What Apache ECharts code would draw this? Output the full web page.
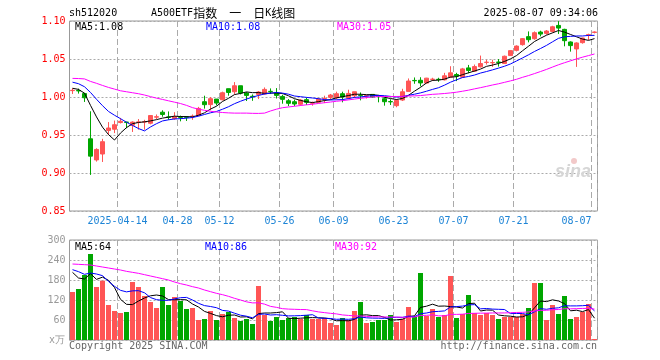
<!DOCTYPE html>
<html><head><meta charset="utf-8">
<script src="https://cdn.jsdelivr.net/npm/echarts@6/dist/echarts.min.js"></script>
<style>html,body{margin:0;padding:0;background:#fff}#c{width:660px;height:360px}</style>
</head><body><div id="c"></div>
<script>
const dates = ['2025-04-01','2025-04-02','2025-04-03','2025-04-07','2025-04-08','2025-04-09','2025-04-10','2025-04-11','2025-04-14','2025-04-15',
'2025-04-16','2025-04-17','2025-04-18','2025-04-21','2025-04-22','2025-04-23','2025-04-24','2025-04-25','2025-04-28','2025-04-29',
'2025-04-30','2025-05-06','2025-05-07','2025-05-08','2025-05-09','2025-05-12','2025-05-13','2025-05-14','2025-05-15','2025-05-16',
'2025-05-19','2025-05-20','2025-05-21','2025-05-22','2025-05-23','2025-05-26','2025-05-27','2025-05-28','2025-05-29','2025-05-30',
'2025-06-03','2025-06-04','2025-06-05','2025-06-06','2025-06-09','2025-06-10','2025-06-11','2025-06-12','2025-06-13','2025-06-16',
'2025-06-17','2025-06-18','2025-06-19','2025-06-20','2025-06-23','2025-06-24','2025-06-25','2025-06-26','2025-06-27','2025-06-30',
'2025-07-01','2025-07-02','2025-07-03','2025-07-04','2025-07-07','2025-07-08','2025-07-09','2025-07-10','2025-07-11','2025-07-14',
'2025-07-15','2025-07-16','2025-07-17','2025-07-18','2025-07-21','2025-07-22','2025-07-23','2025-07-24','2025-07-25','2025-07-28',
'2025-07-29','2025-07-30','2025-07-31','2025-08-01','2025-08-04','2025-08-05','2025-08-06','2025-08-07'];

const openP = [1.0084,1.0085,1.0045,0.9450,0.9172,0.9250,0.9560,0.9576,0.9664,0.9670,
0.9628,0.9668,0.9670,0.9655,0.9735,0.9800,0.9738,0.9716,0.9736,0.9737,
0.9745,0.9755,0.9938,0.9900,0.9973,0.9964,1.0109,1.0069,1.0148,1.0052,
1.0010,1.0034,1.0039,1.0075,1.0052,1.0008,0.9951,0.9938,0.9904,0.9965,
0.9918,0.9930,0.9975,0.9995,0.9990,1.0043,0.9986,1.0017,1.0022,1.0015,
1.0034,1.0009,0.9977,0.9940,0.9886,0.9960,1.0074,1.0218,1.0220,1.0183,
1.0231,1.0233,1.0226,1.0261,1.0296,1.0261,1.0383,1.0340,1.0397,1.0455,
1.0450,1.0460,1.0440,1.0545,1.0614,1.0689,1.0794,1.0767,1.0855,1.0837,
1.0863,1.0942,1.0890,1.0724,1.0632,1.0715,1.0815,1.0850];
const closeP = [1.0088,1.0080,0.9990,0.9222,0.9310,0.9412,0.9592,0.9635,0.9680,0.9666,
0.9670,0.9672,0.9675,0.9756,0.9740,0.9770,0.9733,0.9740,0.9732,0.9733,
0.9748,0.9850,0.9899,0.9978,0.9920,1.0056,1.0060,1.0148,1.0052,1.0021,
1.0003,1.0065,1.0100,1.0071,1.0021,0.9969,0.9917,0.9908,0.9960,0.9930,
0.9922,0.9973,0.9980,1.0026,1.0043,1.0000,1.0047,1.0069,1.0019,1.0019,
1.0000,1.0005,0.9938,0.9936,0.9956,1.0069,1.0210,1.0214,1.0185,1.0248,
1.0235,1.0230,1.0279,1.0318,1.0275,1.0370,1.0349,1.0400,1.0440,1.0458,
1.0453,1.0455,1.0536,1.0610,1.0670,1.0768,1.0754,1.0846,1.0828,1.0868,
1.0924,1.0907,1.0741,1.0676,1.0711,1.0776,1.0820,1.0855];
const lowP = [1.0040,1.0045,0.9935,0.8975,0.9150,0.9145,0.9500,0.9525,0.9652,0.9590,
0.9540,0.9570,0.9570,0.9640,0.9710,0.9740,0.9700,0.9700,0.9680,0.9685,
0.9700,0.9747,0.9847,0.9825,0.9890,0.9956,1.0017,1.0034,1.0034,0.9947,
0.9950,0.9973,1.0030,1.0039,0.9980,0.9912,0.9880,0.9880,0.9886,0.9895,
0.9886,0.9918,0.9920,0.9970,0.9970,0.9930,0.9970,0.9986,0.9956,0.9980,
0.9990,0.9930,0.9886,0.9895,0.9865,0.9947,1.0074,1.0174,1.0140,1.0179,
1.0210,1.0200,1.0218,1.0253,1.0209,1.0253,1.0313,1.0331,1.0388,1.0427,
1.0396,1.0400,1.0436,1.0540,1.0600,1.0676,1.0719,1.0754,1.0798,1.0820,
1.0850,1.0829,1.0667,1.0597,1.0396,1.0702,1.0750,1.0837];
const highP = [1.0115,1.0110,1.0055,0.9812,0.9325,0.9450,0.9670,0.9690,0.9725,0.9672,
0.9680,0.9710,0.9700,0.9756,0.9770,0.9825,0.9810,0.9800,0.9755,0.9750,
0.9770,0.9870,1.0017,1.0000,0.9973,1.0070,1.0110,1.0196,1.0148,1.0065,
1.0034,1.0078,1.0126,1.0113,1.0117,1.0030,0.9973,0.9965,0.9973,0.9990,
0.9940,0.9982,1.0017,1.0040,1.0070,1.0070,1.0096,1.0069,1.0060,1.0030,
1.0034,1.0010,0.9995,0.9970,0.9973,1.0108,1.0244,1.0257,1.0260,1.0252,
1.0253,1.0253,1.0318,1.0405,1.0318,1.0383,1.0422,1.0427,1.0545,1.0490,
1.0490,1.0500,1.0545,1.0614,1.0680,1.0776,1.0863,1.0863,1.0872,1.0881,
1.0937,1.0998,1.0898,1.0732,1.0720,1.0780,1.0833,1.0863];

const ma5 = [1.0115,1.0100,1.0050,0.9890,0.9738,0.9603,0.9505,0.9434,0.9526,0.9597,
0.9649,0.9665,0.9673,0.9686,0.9702,0.9722,0.9735,0.9748,0.9743,0.9742,
0.9738,0.9760,0.9792,0.9841,0.9879,0.9941,0.9983,1.0032,1.0047,1.0067,
1.0057,1.0058,1.0048,1.0052,1.0052,1.0046,1.0016,0.9978,0.9955,0.9937,
0.9927,0.9939,0.9953,0.9966,0.9989,1.0004,1.0019,1.0037,1.0036,1.0031,
1.0031,1.0022,0.9996,0.9980,0.9967,0.9981,1.0022,1.0077,1.0127,1.0185,
1.0218,1.0222,1.0235,1.0262,1.0267,1.0294,1.0318,1.0342,1.0367,1.0403,
1.0420,1.0441,1.0468,1.0502,1.0545,1.0608,1.0668,1.0730,1.0773,1.0813,
1.0844,1.0875,1.0854,1.0823,1.0792,1.0762,1.0745,1.0768];
const ma10 = [1.0195,1.0175,1.0135,1.0060,0.9970,0.9886,0.9810,0.9760,0.9715,0.9668,
0.9626,0.9585,0.9554,0.9606,0.9649,0.9685,0.9700,0.9711,0.9715,0.9722,
0.9730,0.9748,0.9770,0.9792,0.9810,0.9839,0.9872,0.9912,0.9944,0.9973,
0.9999,1.0020,1.0040,1.0050,1.0060,1.0051,1.0037,1.0013,1.0004,0.9995,
0.9987,0.9978,0.9966,0.9961,0.9963,0.9966,0.9979,0.9995,1.0001,1.0010,
1.0018,1.0021,1.0017,1.0008,0.9999,1.0006,1.0022,1.0037,1.0054,1.0076,
1.0100,1.0122,1.0156,1.0195,1.0226,1.0256,1.0270,1.0289,1.0315,1.0335,
1.0357,1.0380,1.0405,1.0435,1.0474,1.0514,1.0555,1.0599,1.0638,1.0679,
1.0726,1.0772,1.0792,1.0798,1.0803,1.0803,1.0810,1.0811];
const ma30 = [1.0245,1.0243,1.0238,1.0205,1.0180,1.0152,1.0126,1.0104,1.0082,1.0069,
1.0056,1.0043,1.0026,1.0005,0.9985,0.9968,0.9950,0.9932,0.9914,0.9890,
0.9860,0.9840,0.9825,0.9812,0.9803,0.9796,0.9791,0.9788,0.9788,0.9788,
0.9785,0.9784,0.9788,0.9816,0.9840,0.9859,0.9869,0.9878,0.9888,0.9897,
0.9905,0.9915,0.9925,0.9934,0.9944,0.9952,0.9962,0.9973,0.9983,0.9992,
1.0001,1.0006,1.0007,1.0006,1.0007,1.0008,1.0013,1.0015,1.0019,1.0027,
1.0035,1.0040,1.0046,1.0054,1.0063,1.0076,1.0090,1.0107,1.0123,1.0140,
1.0158,1.0174,1.0193,1.0212,1.0233,1.0259,1.0282,1.0308,1.0335,1.0363,
1.0394,1.0424,1.0451,1.0476,1.0501,1.0524,1.0545,1.0566];

const volume = [144,153,195,258,159,178,105,87,81,84,
174,159,132,114,96,159,105,129,117,93,
96,60,63,87,60,78,84,66,57,63,
48,162,75,57,69,60,66,69,63,75,
63,63,66,51,45,66,60,87,114,51,
54,60,60,75,54,63,99,72,201,72,
93,69,75,192,66,78,135,81,75,81,
75,63,69,69,69,78,96,171,171,60,
105,78,132,63,69,84,108,3];
const volMa5 = [203,186,183,199,181.8,188.6,179,157.4,122,107,
106.2,117,126,132.6,135,132,121.2,120.6,121.2,120.6,
108,99,85.8,79.8,73.2,69.6,74.4,75,69,69.6,
63.6,79.2,81,81,82.2,84.6,65.4,64.2,65.4,66.6,
67.2,66.6,66,63.6,57.6,58.2,57.6,61.8,74.4,75.6,
73.2,73.2,67.8,60,60.6,62.4,70.2,72.6,97.8,101.4,
107.4,101.4,102,100.2,99,96,109.2,110.4,87,90,
89.4,75,72.6,71.4,69,69.6,76.2,96.6,117,115.2,
120.6,117,109.2,87.6,89.4,85.2,91.2,65.4];
const volMa10 = [211,205,197,201,198,193,176,161,149,144.4,
147.4,148,141.7,127.3,121,119.1,119.1,123.3,126.9,127.8,
120,110.1,103.2,100.5,96.9,88.8,86.7,80.4,74.4,71.4,
66.6,76.8,78,75,75.9,74.1,72.3,72.6,73.2,74.4,
75.9,66,65.1,64.5,62.1,62.7,62.1,63.9,69,66.6,
65.7,65.4,64.8,67.2,68.1,67.8,71.7,70.2,78.9,81,
84.9,85.8,87.3,99,100.2,101.7,105.3,106.2,93.6,94.5,
92.7,92.1,91.5,79.2,79.5,79.5,75.6,84.6,94.2,92.1,
95.1,96.6,102.9,102.3,102.3,102.9,104.1,87.3];
const volMa30 = [228,227,226,225,222,219,216,213,210,206,
203,200,196,192,188,184,180,174,169,165,
160,156,150,145,140,136,131,125,120,114.5,
111.3,111.6,107.6,100.9,97.9,94,92.7,92.1,91.5,91.2,
87.5,84.3,82.1,80,78.3,75.2,73.7,72.3,72.2,70.8,
69.4,69.4,69.3,68.9,68.7,68.2,68.7,68.9,73.7,74,
75.5,72.4,72.4,76.9,76.8,77.4,79.7,80.1,80.5,80.7,
81.1,81.1,81.2,81.8,82.6,83,84.2,87,88.9,89.2,
90.9,91.5,93.9,93.5,94,94.7,95,92.7];

const tickDates = ['2025-04-14','2025-04-28','2025-05-12','2025-05-26','2025-06-09','2025-06-23','2025-07-07','2025-07-21','2025-08-07'];
const tickLabels = ['2025-04-14','04-28','05-12','05-26','06-09','06-23','07-07','07-21','08-07'];

const UP = '#ff5555', DOWN = '#00a600';
const MONO = '"DejaVu Sans Mono", monospace';
const isTick = (i, v) => tickDates.indexOf(v) >= 0;

const chart = echarts.init(document.getElementById('c'), null, {renderer: 'canvas'});
const gridCommon = {show: true, borderColor: '#999', borderWidth: 1, backgroundColor: '#fff'};
const xCommon = {
  type: 'category', data: dates, boundaryGap: true,
  axisLine: {show: false}, axisTick: {show: false},
  splitLine: {show: true, interval: isTick, lineStyle: {color: '#aaa', type: [6, 3], width: 1}}
};
function lineSeries(name, data, color, xi, yi) {
  return {name, type: 'line', data, xAxisIndex: xi, yAxisIndex: yi, symbol: 'none', smooth: false,
    lineStyle: {color, width: 1}, itemStyle: {color}, z: 5, silent: true};
}
function txt(x, y, text, fill, align, extra) {
  return Object.assign({type: 'text', x, y, silent: true, z: 100,
    style: {text, fill, font: '10px ' + MONO, textAlign: align || 'left', textVerticalAlign: 'middle'}}, extra || {});
}

chart.setOption({
  animation: false,
  backgroundColor: '#fff',
  grid: [
    Object.assign({left: 69.5, width: 528, top: 21, height: 190}, gridCommon),
    Object.assign({left: 69.5, width: 528, top: 240, height: 100}, gridCommon)
  ],
  xAxis: [
    Object.assign({gridIndex: 0, axisLabel: {show: true, interval: isTick, color: '#1d84d6', fontFamily: MONO, fontSize: 10, margin: 5,
      formatter: v => {
        const k = tickDates.indexOf(v);
        return (k === tickDates.length - 1 ? '{e|' : '{n|') + tickLabels[k] + '}';
      },
      rich: {
        n: {color: '#1d84d6', fontFamily: MONO, fontSize: 10, padding: [0, 6, 0, 0]},
        e: {color: '#1d84d6', fontFamily: MONO, fontSize: 10, padding: [0, 36, 0, 0]}
      }}}, xCommon),
    Object.assign({gridIndex: 1, axisLabel: {show: false}}, xCommon)
  ],
  yAxis: [
    {gridIndex: 0, min: 0.85, max: 1.10, interval: 0.05, axisLine: {show: false}, axisTick: {show: false},
      axisLabel: {color: '#ff0000', fontFamily: MONO, fontSize: 10, margin: 4, formatter: v => v.toFixed(2)},
      splitLine: {show: true, lineStyle: {color: '#aaa', type: [2, 2]}}},
    {gridIndex: 1, min: 0, max: 300, interval: 60, axisLine: {show: false}, axisTick: {show: false},
      axisLabel: {color: '#999', fontFamily: MONO, fontSize: 10, margin: 4, formatter: v => v === 0 ? '' : String(v)},
      splitLine: {show: true, lineStyle: {color: '#aaa', type: [2, 2]}}}
  ],
  series: [
    {type: 'candlestick', xAxisIndex: 0, yAxisIndex: 0, barWidth: 5,
      data: dates.map((d, i) => [openP[i], closeP[i], lowP[i], highP[i]]),
      itemStyle: {color: UP, color0: DOWN, borderColor: UP, borderColor0: DOWN, borderWidth: 1}, z: 3},
    lineSeries('MA5', ma5, '#000000', 0, 0),
    lineSeries('MA10', ma10, '#0000ff', 0, 0),
    lineSeries('MA30', ma30, '#ff00ff', 0, 0),
    {type: 'bar', xAxisIndex: 1, yAxisIndex: 1, barWidth: 5, z: 3,
      data: volume.map((v, i) => ({value: v, itemStyle: {color: closeP[i] >= openP[i] ? UP : DOWN}}))},
    lineSeries('VMA5', volMa5, '#000000', 1, 1),
    lineSeries('VMA10', volMa10, '#0000ff', 1, 1),
    lineSeries('VMA30', volMa30, '#ff00ff', 1, 1)
  ],
  graphic: [
    txt(69, 13, 'sh512020', '#000'),
    {type: 'text', x: 151, y: 13, silent: true, z: 100, style: {
      text: '{a|A500ETF}{b|指数}{a|  }{b|一}{a|  }{b|日}{a|K}{b|线图}', textVerticalAlign: 'middle', fill: '#000',
      rich: {a: {font: '10px ' + MONO, fill: '#000'}, b: {font: '12px "Noto Sans CJK SC"', fill: '#000'}}}},
    txt(598, 13, '2025-08-07 09:34:06', '#000', 'right'),
    txt(75, 27, 'MA5:1.08', '#000'),
    txt(206, 27, 'MA10:1.08', '#0000ff'),
    txt(337, 27, 'MA30:1.05', '#ff00ff'),
    txt(75, 247, 'MA5:64', '#000'),
    txt(205, 247, 'MA10:86', '#0000ff'),
    txt(335, 247, 'MA30:92', '#ff00ff'),
    txt(49, 340, 'x万', '#999'),
    txt(69, 346, 'Copyright 2025 SINA.COM', '#666'),
    txt(597, 346, 'http://finance.sina.com.cn', '#666', 'right'),
    {type: 'text', x: 555, y: 172, silent: true, z: 1, style: {text: 'sina', fill: '#d6d6d6',
      font: 'italic bold 18px "Liberation Sans"', textVerticalAlign: 'middle'}},
    {type: 'circle', shape: {cx: 574, cy: 161, r: 3}, silent: true, z: 1, style: {fill: '#f2c9c9'}}
  ]
});
</script></body></html>
